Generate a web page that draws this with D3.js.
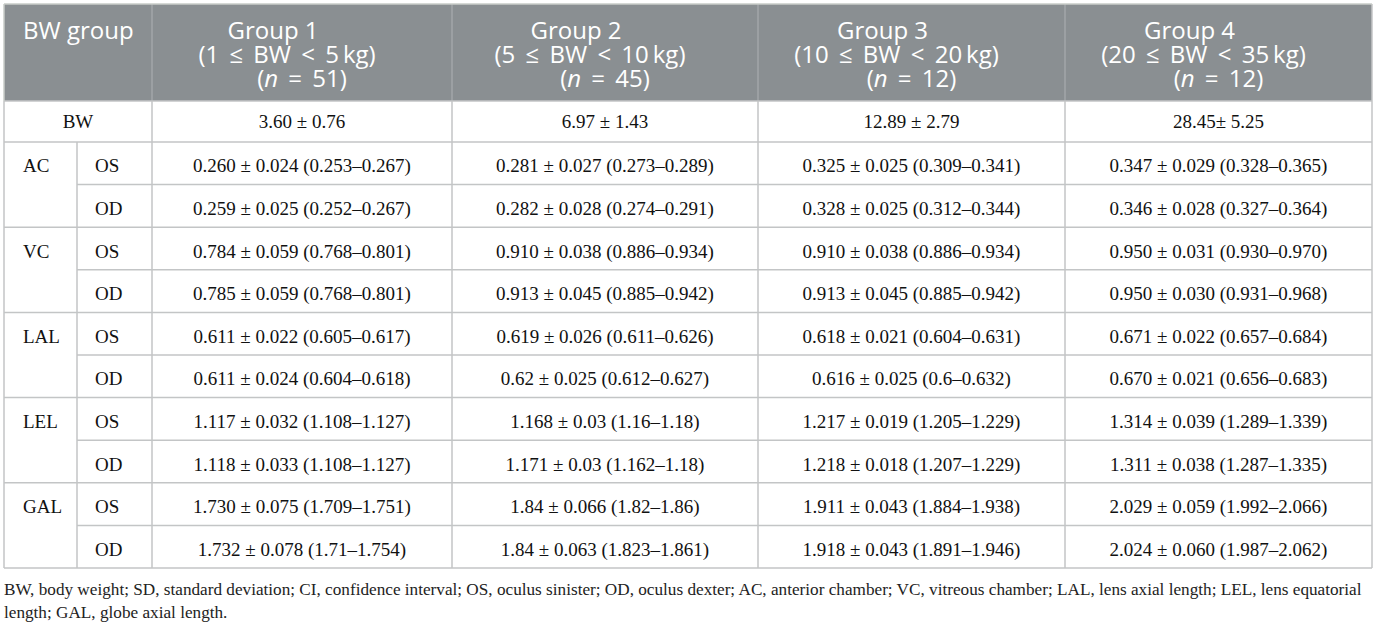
<!DOCTYPE html>
<html><head><meta charset="utf-8">
<script src="https://cdn.jsdelivr.net/npm/d3@7/dist/d3.min.js"></script>
<style>
body{margin:0;background:#fff;}
svg{display:block;}
text{white-space:pre;}
</style></head>
<body>
<svg id="c" width="1376" height="625"></svg>
<script>
const groupNames = ["Group 1", "Group 2", "Group 3", "Group 4"];
const groupRanges = ["(1 \u2009\u2264\u2009 BW \u2009<\u2009 5\u2009kg)", "(5 \u2009\u2264\u2009 BW \u2009<\u2009 10\u2009kg)", "(10 \u2009\u2264\u2009 BW \u2009<\u2009 20\u2009kg)", "(20 \u2009\u2264\u2009 BW \u2009<\u2009 35\u2009kg)"];
const groupN = ["51", "45", "12", "12"];
const bwValues = ["3.60 ± 0.76", "6.97 ± 1.43", "12.89 ± 2.79", "28.45± 5.25"];
const measures = ["AC", "VC", "LAL", "LEL", "GAL"];
const eyes = ["OS", "OD"];
const group1 = [
  "0.260 ± 0.024 (0.253–0.267)", "0.259 ± 0.025 (0.252–0.267)",
  "0.784 ± 0.059 (0.768–0.801)", "0.785 ± 0.059 (0.768–0.801)",
  "0.611 ± 0.022 (0.605–0.617)", "0.611 ± 0.024 (0.604–0.618)",
  "1.117 ± 0.032 (1.108–1.127)", "1.118 ± 0.033 (1.108–1.127)",
  "1.730 ± 0.075 (1.709–1.751)", "1.732 ± 0.078 (1.71–1.754)"];
const group2 = [
  "0.281 ± 0.027 (0.273–0.289)", "0.282 ± 0.028 (0.274–0.291)",
  "0.910 ± 0.038 (0.886–0.934)", "0.913 ± 0.045 (0.885–0.942)",
  "0.619 ± 0.026 (0.611–0.626)", "0.62 ± 0.025 (0.612–0.627)",
  "1.168 ± 0.03 (1.16–1.18)", "1.171 ± 0.03 (1.162–1.18)",
  "1.84 ± 0.066 (1.82–1.86)", "1.84 ± 0.063 (1.823–1.861)"];
const group3 = [
  "0.325 ± 0.025 (0.309–0.341)", "0.328 ± 0.025 (0.312–0.344)",
  "0.910 ± 0.038 (0.886–0.934)", "0.913 ± 0.045 (0.885–0.942)",
  "0.618 ± 0.021 (0.604–0.631)", "0.616 ± 0.025 (0.6–0.632)",
  "1.217 ± 0.019 (1.205–1.229)", "1.218 ± 0.018 (1.207–1.229)",
  "1.911 ± 0.043 (1.884–1.938)", "1.918 ± 0.043 (1.891–1.946)"];
const group4 = [
  "0.347 ± 0.029 (0.328–0.365)", "0.346 ± 0.028 (0.327–0.364)",
  "0.950 ± 0.031 (0.930–0.970)", "0.950 ± 0.030 (0.931–0.968)",
  "0.671 ± 0.022 (0.657–0.684)", "0.670 ± 0.021 (0.656–0.683)",
  "1.314 ± 0.039 (1.289–1.339)", "1.311 ± 0.038 (1.287–1.335)",
  "2.029 ± 0.059 (1.992–2.066)", "2.024 ± 0.060 (1.987–2.062)"];
const footnoteLines = [
  "BW, body weight; SD, standard deviation; CI, confidence interval; OS, oculus sinister; OD, oculus dexter; AC, anterior chamber; VC, vitreous chamber; LAL, lens axial length; LEL, lens equatorial",
  "length; GAL, globe axial length."];

const groupValues = [group1, group2, group3, group4];
const svg = d3.select("#c");
// layout
const L = 4, R = 1372, SUB = 77;
const colEdges = [152, 452, 758, 1065, 1372];
const TOP = 4, HEAD_B = 101, BW_B = 142, BOT = 568;
const x = d3.scaleOrdinal().domain([0, 1, 2, 3, 4]).range(colEdges);
const y = d3.scaleLinear().domain([0, 10]).range([BW_B, BOT]);
const hdrFill = "#8a8f92", lineCol = "#c3c5c6";
const serif = "'Liberation Serif','Times New Roman',serif";
const sans = "'Open Sans','Noto Sans',sans-serif";
const bodySize = 19, hdrSize = 24;
const cx = i => (x(i) + x(i + 1)) / 2;

// header background
svg.append("rect").attr("x", L).attr("y", TOP).attr("width", R - L).attr("height", HEAD_B - TOP).attr("fill", hdrFill);
svg.selectAll(".hsep").data(d3.range(0, 4)).join("line")
  .attr("x1", d => x(d)).attr("x2", d => x(d)).attr("y1", TOP).attr("y2", HEAD_B)
  .attr("stroke", "#a2a6a8").attr("stroke-width", 1.5);

// header text
svg.append("text").attr("x", 23).attr("y", 39).attr("fill", "#fff")
  .attr("font-family", sans).attr("font-size", hdrSize).text("BW group");
const ht = svg.selectAll(".ht").data(groupNames).join("text")
  .attr("text-anchor", "middle").attr("fill", "#fff")
  .attr("font-family", sans).attr("font-size", hdrSize);
ht.append("tspan").attr("x", (d, i) => cx(i) - 29).attr("y", 39).text(d => d);
ht.append("tspan").attr("x", (d, i) => cx(i) - 15).attr("y", 63).text((d, i) => groupRanges[i]);
const n3 = ht.append("tspan").attr("x", (d, i) => cx(i)).attr("y", 87);
n3.append("tspan").text("(");
n3.append("tspan").attr("font-style", "italic").text("n");
n3.append("tspan").text((d, i) => " \u2009=\u2009 " + groupN[i] + ")");

// BW row
svg.append("text").attr("x", (L + colEdges[0]) / 2).attr("y", 128).attr("text-anchor", "middle")
  .attr("font-family", serif).attr("font-size", bodySize).attr("fill", "#111").text("BW");
svg.selectAll(".bwv").data(bwValues).join("text")
  .attr("x", (d, i) => cx(i)).attr("y", 128).attr("text-anchor", "middle")
  .attr("font-family", serif).attr("font-size", bodySize).attr("fill", "#111").text(d => d);

// body rows
const rows = d3.range(10);
const BASE = 9;
svg.selectAll(".meas").data(measures).join("text")
  .attr("x", 23).attr("y", (d, i) => (y(2 * i) + y(2 * i + 1)) / 2 + BASE)
  .attr("font-family", serif).attr("font-size", bodySize).attr("fill", "#111").text(d => d);
svg.selectAll(".eye").data(rows).join("text")
  .attr("x", 95).attr("y", r => (y(r) + y(r + 1)) / 2 + BASE)
  .attr("font-family", serif).attr("font-size", bodySize).attr("fill", "#111").text(r => eyes[r % 2]);
groupValues.forEach((vals, gi) => {
  svg.selectAll(".v" + gi).data(vals).join("text")
    .attr("x", cx(gi)).attr("y", (d, r) => (y(r) + y(r + 1)) / 2 + BASE)
    .attr("text-anchor", "middle").attr("font-family", serif).attr("font-size", bodySize).attr("fill", "#111")
    .text(d => d);
});

// grid lines
const grid = svg.append("g").attr("stroke", lineCol).attr("stroke-width", 1.5);
grid.append("line").attr("x1", L).attr("x2", R).attr("y1", HEAD_B).attr("y2", HEAD_B);
rows.forEach(r => {
  const yy = y(r);
  const x1 = (r % 2 === 1) ? SUB : L;
  grid.append("line").attr("x1", x1).attr("x2", R).attr("y1", yy).attr("y2", yy);
});
grid.append("line").attr("x1", L).attr("x2", R).attr("y1", BOT).attr("y2", BOT);
grid.append("line").attr("x1", L).attr("x2", L).attr("y1", HEAD_B).attr("y2", BOT);
grid.append("line").attr("x1", R).attr("x2", R).attr("y1", TOP).attr("y2", BOT);
grid.append("line").attr("x1", SUB).attr("x2", SUB).attr("y1", BW_B).attr("y2", BOT);
d3.range(0, 4).forEach(i => {
  grid.append("line").attr("x1", x(i)).attr("x2", x(i)).attr("y1", HEAD_B).attr("y2", BOT);
});
svg.append("line").attr("x1", L).attr("x2", R).attr("y1", TOP).attr("y2", TOP)
  .attr("stroke", "#c8cdc8").attr("stroke-width", 1.5);
svg.append("line").attr("x1", L).attr("x2", L).attr("y1", TOP).attr("y2", HEAD_B)
  .attr("stroke", "#c8cdc8").attr("stroke-width", 1.5);

// footnote
svg.selectAll(".fn").data(footnoteLines).join("text")
  .attr("x", L).attr("y", (d, i) => 595 + i * 23)
  .attr("font-family", serif).attr("font-size", 17.2).attr("fill", "#222").text(d => d);
</script>
</body></html>
